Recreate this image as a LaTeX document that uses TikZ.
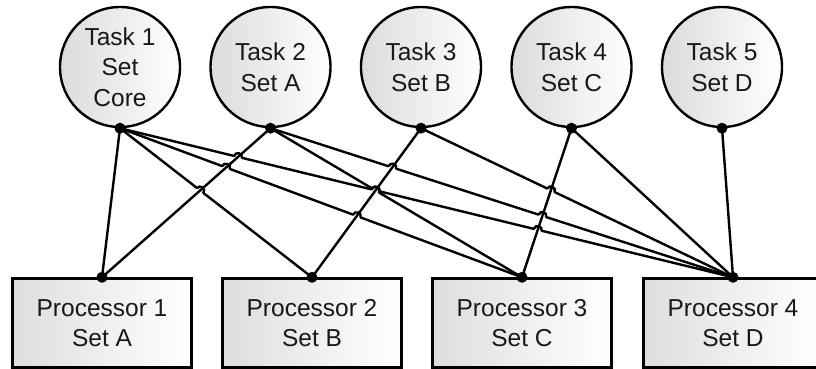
\documentclass[tikz,border=0pt]{standalone}
\usepackage{fontspec}
\setmainfont{Liberation Sans}
\usetikzlibrary{calc}
\begin{document}
\begin{tikzpicture}[x=1pt,y=1pt]
\tikzset{
  txt/.style={align=center, font=\fontsize{24.5}{30.5}\selectfont, text=black!90},
  task/.style={txt, circle, draw, line width=2.4pt, minimum size=120pt, inner sep=0pt, left color=black!14, right color=white},
  proc/.style={txt, rectangle, draw, line width=2.4pt, minimum width=179pt, minimum height=89pt, inner sep=0pt, left color=black!13, right color=white},
  link/.style={line width=2.4pt, line cap=round},
  eraser/.style={white, line width=4pt},
  dot/.style={circle, fill=black, inner sep=0pt, minimum size=11pt},
}
\useasboundingbox (0,0) rectangle (816,-369);
% tasks
\node[task] (T1) at (120,-67)   {Task 1\\Set\\Core};
\node[task] (T2) at (270.5,-67) {Task 2\\Set A};
\node[task] (T3) at (421,-67)   {Task 3\\Set B};
\node[task] (T4) at (571.5,-67) {Task 4\\Set C};
\node[task] (T5) at (722,-67)   {Task 5\\Set D};
% processors
\node[proc] (P1) at (102,-323) {Processor 1\\Set A};
\node[proc] (P2) at (312,-323) {Processor 2\\Set B};
\node[proc] (P3) at (522,-323) {Processor 3\\Set C};
\node[proc] (P4) at (733,-323) {Processor 4\\Set D};
% shallow (jumping) links
\foreach \a/\b in {T1/P1,T1/P2,T1/P3,T1/P4,T2/P3,T2/P4,T3/P4,T4/P4,T5/P4}
  \draw[link] (\a.south) -- (\b.north);
% gaps at the crossings
\foreach \a/\b/\c/\d in {T1/P2/T2/P1, T1/P3/T2/P1, T1/P4/T2/P1,
                         T1/P3/T3/P2, T1/P4/T3/P2, T2/P3/T3/P2, T2/P4/T3/P2,
                         T1/P4/T4/P3, T2/P4/T4/P3, T3/P4/T4/P3} {
  \coordinate (X) at (intersection of \a.south--\b.north and \c.south--\d.north);
  \coordinate (HA) at ($(X)!4pt!(\a.south)$);
  \coordinate (HB) at ($(X)!4pt!(\b.north)$);
  \draw[eraser] (HA) -- (HB);
}
% steep links
\foreach \a/\b in {T2/P1,T3/P2,T4/P3}
  \draw[link] (\a.south) -- (\b.north);
% hops
\foreach \a/\b/\c/\d in {T1/P2/T2/P1, T1/P3/T2/P1, T1/P4/T2/P1,
                         T1/P3/T3/P2, T1/P4/T3/P2, T2/P3/T3/P2, T2/P4/T3/P2,
                         T1/P4/T4/P3, T2/P4/T4/P3, T3/P4/T4/P3} {
  \coordinate (X) at (intersection of \a.south--\b.north and \c.south--\d.north);
  \coordinate (HA) at ($(X)!4pt!(\a.south)$);
  \coordinate (HB) at ($(X)!4pt!(\b.north)$);
  \draw[link] (HA) .. controls ($(HA)!5pt!90:(HB)$) and ($(HB)!5pt!-90:(HA)$) .. (HB);
}
% dots
\foreach \n in {T1,T2,T3,T4,T5} \node[dot] at (\n.south) {};
\foreach \n in {P1,P2,P3,P4} \node[dot] at (\n.north) {};
\end{tikzpicture}
\end{document}
